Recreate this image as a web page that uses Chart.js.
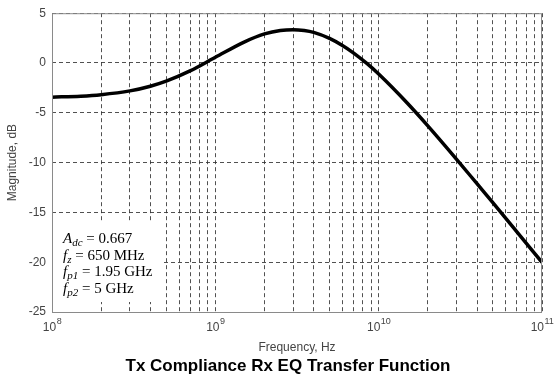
<!DOCTYPE html>
<html>
<head>
<meta charset="utf-8">
<script src="https://cdn.jsdelivr.net/npm/chart.js@4.4.1/dist/chart.umd.min.js"></script>
<style>
  html, body { margin: 0; padding: 0; background: #fff; }
  #wrap { width: 557px; height: 377px; }
</style>
</head>
<body>
<div id="wrap"><canvas id="grafico" width="557" height="377"></canvas></div>
<script>
// frecuencias (Hz) y magnitud (dB)
const frecuencias = [1e8, 1.5e8, 2e8, 3e8, 4e8, 5e8, 7e8, 1e9, 1.5e9, 2e9, 2.5e9, 3e9, 3.5e9, 4e9,
                     5e9, 6e9, 7e9, 8.5e9, 1e10, 1.5e10, 2e10, 3e10, 4e10, 5e10, 7e10, 1e11];
const magnitudDb = [-3.43, -3.33, -3.18, -2.80, -2.33, -1.82, -0.79, 0.57, 2.10, 2.92, 3.27, 3.35, 3.26, 3.07,
                    2.47, 1.76, 1.02, -0.07, -1.11, -4.04, -6.31, -9.67, -12.12, -14.02, -16.92, -20.01];

// lineas de rejilla verticales (decadas + intermedias) y etiquetas
const exponentesX = [8, 9, 10, 11];
const rejillaX = [];
for (let e = 8; e <= 11; e++) {
    for (let m = 1; m <= 9; m++) {
        if (e === 11 && m > 1) break;
        rejillaX.push(m * Math.pow(10, e));
    }
}
const ticksY = [5, 0, -5, -10, -15, -20, -25];

const titulo = 'Tx Compliance Rx EQ Transfer Function';

// texto de parametros: [texto, estilo] con estilo 'i' cursiva, 's' subindice, 'n' normal
const parametros = [
    [['A', 'i'], ['dc', 's'], [' = 0.667', 'n']],
    [['f', 'i'], ['z', 's'], [' = 650 MHz', 'n']],
    [['f', 'i'], ['p1', 's'], [' = 1.95 GHz', 'n']],
    [['f', 'i'], ['p2', 's'], [' = 5 GHz', 'n']]
];

const estiloRejilla = 'rgba(50,50,50,0.85)';

const pluginExtras = {
    id: 'extras',
    afterDatasetsDraw(chart) {
        const ctx = chart.ctx;
        const area = chart.chartArea;
        const ejeX = chart.scales.x;
        ctx.save();
        // marco
        ctx.strokeStyle = '#8a8a8a';
        ctx.lineWidth = 1;
        ctx.strokeRect(area.left + 0.5, area.top + 0.5, area.right - area.left - 1, area.bottom - area.top);

        // etiquetas del eje x con exponente
        ctx.fillStyle = '#444';
        ctx.textBaseline = 'alphabetic';
        exponentesX.forEach(function (e) {
            const x = ejeX.getPixelForValue(Math.pow(10, e));
            ctx.font = '12px "Liberation Sans", Arial, sans-serif';
            const wBase = ctx.measureText('10').width;
            ctx.font = '9px "Liberation Sans", Arial, sans-serif';
            const wExp = ctx.measureText(String(e)).width;
            const x0 = x - (wBase + wExp) / 2;
            ctx.font = '12px "Liberation Sans", Arial, sans-serif';
            ctx.textAlign = 'left';
            ctx.fillText('10', x0, area.bottom + 19);
            ctx.font = '9px "Liberation Sans", Arial, sans-serif';
            ctx.fillText(String(e), x0 + wBase + 0.5, area.bottom + 12);
        });

        // caja blanca y texto de parametros
        ctx.fillStyle = '#fff';
        ctx.fillRect(area.left + 1, 222, 110, 80);
        ctx.fillStyle = '#000';
        let y = 243;
        parametros.forEach(function (linea) {
            let x = 63;
            linea.forEach(function (parte) {
                const txt = parte[0], st = parte[1];
                if (st === 'i') ctx.font = 'italic 15px "Liberation Serif", "Times New Roman", serif';
                else if (st === 's') ctx.font = 'italic 11px "Liberation Serif", "Times New Roman", serif';
                else ctx.font = '15px "Liberation Serif", "Times New Roman", serif';
                ctx.fillText(txt, x, st === 's' ? y + 3 : y);
                x += ctx.measureText(txt).width;
            });
            y += 16.5;
        });

        // titulo inferior
        ctx.font = 'bold 17px "Liberation Sans", Arial, sans-serif';
        ctx.textAlign = 'center';
        ctx.fillText(titulo, 288, 371);
        ctx.restore();
    }
};

const ctx = document.getElementById('grafico').getContext('2d');
new Chart(ctx, {
    type: 'line',
    data: {
        labels: frecuencias,
        datasets: [{
            data: frecuencias.map((f, i) => ({ x: f, y: magnitudDb[i] })),
            borderColor: '#000',
            borderWidth: 3.5,
            pointRadius: 0,
            fill: false,
            cubicInterpolationMode: 'monotone'
        }]
    },
    options: {
        responsive: false,
        animation: false,
        layout: { padding: { left: 5, right: 15, top: 10, bottom: 22 } },
        plugins: {
            legend: { display: false },
            tooltip: { enabled: false },
            title: { display: false }
        },
        scales: {
            x: {
                type: 'logarithmic',
                min: 1e8,
                max: 1e11,
                afterBuildTicks(scale) {
                    scale.ticks = rejillaX.map(v => ({ value: v }));
                },
                afterFit(scale) { scale.height = 43; },
                ticks: { display: false },
                grid: { color: estiloRejilla, lineWidth: 1, drawTicks: false },
                border: { display: false, dash: [4, 3] },
                title: {
                    display: true,
                    text: 'Frequency, Hz',
                    color: '#444',
                    font: { family: '"Liberation Sans", Arial, sans-serif', size: 12 },
                    padding: { top: 0, bottom: 0 }
                }
            },
            y: {
                min: -25,
                max: 5,
                afterBuildTicks(scale) {
                    scale.ticks = ticksY.map(v => ({ value: v }));
                },
                afterFit(scale) { scale.width = 47; },
                ticks: {
                    color: '#444',
                    padding: 6,
                    font: { family: '"Liberation Sans", Arial, sans-serif', size: 12 }
                },
                grid: { color: estiloRejilla, lineWidth: 1, drawTicks: false },
                border: { display: false, dash: [4, 3] },
                title: {
                    display: true,
                    text: 'Magnitude, dB',
                    color: '#444',
                    font: { family: '"Liberation Sans", Arial, sans-serif', size: 12 },
                    padding: 0
                }
            }
        }
    },
    plugins: [pluginExtras]
});
</script>
</body>
</html>
